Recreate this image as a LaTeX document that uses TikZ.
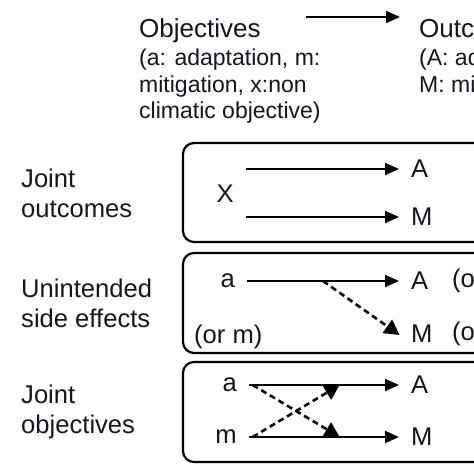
\documentclass[tikz,border=0pt]{standalone}
\usepackage{fontspec}
\setmainfont{Liberation Sans}
\usetikzlibrary{arrows.meta,calc}
\definecolor{ink}{HTML}{15151F}

\tikzset{
  lab/.style={anchor=west, align=left, inner sep=0pt, text=ink, font=\fontsize{25.6}{30}\selectfont},
  head/.style={anchor=base west, inner sep=0pt, text=ink, font=\fontsize{26}{30}\selectfont},
  sub/.style={anchor=north west, align=left, inner sep=0pt, text=ink, font=\fontsize{23}{26.5}\selectfont},
  lt/.style={inner sep=0pt, text=ink, font=\fontsize{25.6}{30}\selectfont},
  frame/.style={line width=2.2pt, rounded corners=11pt},
  arr/.style={line width=2pt, -{Triangle[length=14pt,width=12pt]}, shorten <=12pt, shorten >=12pt},
  darr/.style={line width=2.6pt, dash pattern=on 6pt off 4pt, -{Triangle[length=15pt,width=16pt]}},
}

\begin{document}
\begin{tikzpicture}[x=1pt,y=-1pt, line join=round]
\useasboundingbox (0,0) rectangle (474,474);
\clip (0,0) rectangle (474,474);
% header
\node[head] (obj) at (139,37) {Objectives};
\node[sub] (objs) at (139,49) {(a: adaptation, m:\\mitigation, x:non\\climatic objective)};
\node[head] (out) at (419,37) {Outcomes};
\node[sub] (outs) at (419,49) {(A: adaptation,\\M: mitigation)};
\coordinate (hs) at (306,17);
\coordinate (he) at (400,17);
\draw[arr, shorten <=0pt, shorten >=0pt] (hs) -- (he);

% frames
\draw[frame] (183,143) rectangle (520,242);
\draw[frame] (183,253) rectangle (520,353);
\draw[frame] (183,362) rectangle (520,462);

% joint outcomes
\node[lab] (lj) at (21,193) {Joint\\outcomes};
\node[lt, anchor=east] (x1) at (234,194) {X};
\node[lt, anchor=west] (A1) at (411,169) {A};
\node[lt, anchor=west] (M1) at (411,217) {M};
\draw[arr] (x1.east |- A1) -- (A1.west);
\draw[arr] (x1.east |- M1) -- (M1.west);

% unintended side effects
\node[lab] (lu) at (21,303) {Unintended\\side effects};
\node[lt, anchor=east] (a2) at (235,281) {a};
\node[lt, anchor=base west] (om) at (194,343) {(or m)};
\node[lt, anchor=west] (A2) at (411,281) {A};
\node[lt, anchor=west] (oM) at (452,281) {(or M)};
\node[lt, anchor=west] (M2) at (411,334) {M};
\node[lt, anchor=west] (oA) at (452,334) {(or A)};
\draw[arr] (a2.east) -- (A2.west);
\coordinate (s2) at ($(a2.east)!0.5!(A2.west)$);
\draw[darr, shorten >=14pt] (s2) -- (M2.south west);

% joint objectives
\node[lab] (lo) at (21,412) {Joint\\objectives};
\node[lt, anchor=east] (a3) at (237,385) {a};
\node[lt, anchor=east] (m3) at (237,437) {m};
\node[lt, anchor=west] (A3) at (411,385) {A};
\node[lt, anchor=west] (M3) at (411,437) {M};
\draw[arr] (a3.east) -- (A3.west);
\draw[arr] (m3.east) -- (M3.west);
\coordinate (s3) at ($(a3.east)!0.09!(A3.west)$);
\coordinate (t3) at ($(m3.east)!0.09!(M3.west)$);
\coordinate (p3) at ($(m3.east)!0.59!(M3.west)$);
\coordinate (q3) at ($(a3.east)!0.59!(A3.west)$);
\draw[darr] (s3) -- (p3);
\draw[darr] (t3) -- (q3);
\end{tikzpicture}
\end{document}
